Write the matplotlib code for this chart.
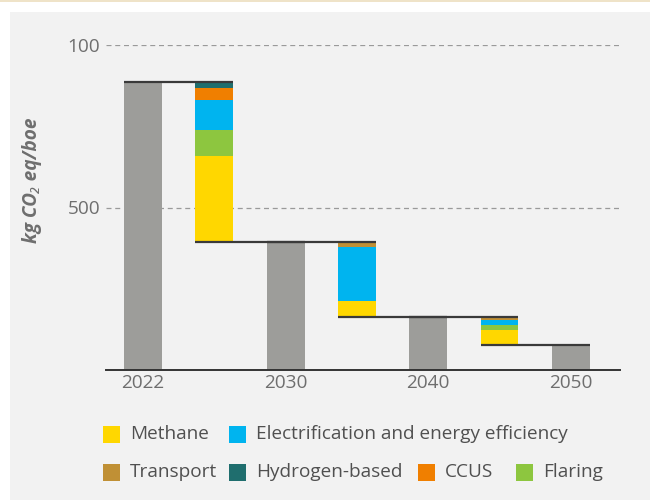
import matplotlib
matplotlib.use("Agg")
import matplotlib.pyplot as plt
from matplotlib.patches import Rectangle
import numpy as np

plt.rcParams['font.family'] = ['Open Sans', 'Noto Sans', 'DejaVu Sans']

# ---- data ----
categories = ['2022', '', '2030', '', '2040', '', '2050']
tick_labels = ['2022', '2030', '2040', '2050']
totals = [885, 394, 164, 77]          # gray bars at 2022, 2030, 2040, 2050
methane = [265, 48, 46]
flaring = [80, 0, 14]
electrification = [92, 166, 18]
transport = [0, 16, 9]
ccus = [38, 0, 0]
hydrogen = [16, 0, 0]
ytick_vals = [500, 1000]
ytick_labels = ['500', '100']

series = [
    ('Methane', methane, '#ffd700'),
    ('Flaring', flaring, '#8dc63f'),
    ('Electrification and energy efficiency', electrification, '#00b4ef'),
    ('Transport', transport, '#c09035'),
    ('CCUS', ccus, '#f07f00'),
    ('Hydrogen-based', hydrogen, '#1f6e6e'),
]

W, H = 650, 500
fig = plt.figure(figsize=(6.5, 5), dpi=100)
fig.patch.set_facecolor('white')

def fx(x):
    return x / W

def fy(y):
    return 1 - y / H

# background panel and top rule
fig.patches.append(Rectangle((fx(10), 0), 1 - fx(10), fy(12), transform=fig.transFigure,
                             facecolor='#f2f2f2', edgecolor='none', zorder=-10))
fig.patches.append(Rectangle((0, fy(2)), 1, 2 / H, transform=fig.transFigure,
                             facecolor='#efe3c8', edgecolor='none', zorder=-10))

ax = fig.add_axes([fx(106), fy(370), fx(620) - fx(106), (370 - 45) / H])
ax.set_facecolor('none')

pos = np.arange(len(categories))
bw = 0.53
gray = '#9d9d9a'
total_pos = pos[0::2]
stack_pos = pos[1::2]

ax.bar(total_pos, totals, width=bw, color=gray, zorder=2)

for i, sp in enumerate(stack_pos):
    bottom = totals[i + 1]
    for name, vals, col in series:
        v = vals[i]
        if v > 0:
            ax.bar(sp, v, bottom=bottom, width=bw, color=col, zorder=2)
            bottom += v

# connector lines
for i, sp in enumerate(stack_pos):
    ax.plot([total_pos[i] - bw / 2, sp + bw / 2], [totals[i], totals[i]],
            color='#3a3a3a', lw=1.6, zorder=3, solid_capstyle='butt')
    ax.plot([sp - bw / 2, total_pos[i + 1] + bw / 2], [totals[i + 1], totals[i + 1]],
            color='#3a3a3a', lw=1.6, zorder=3, solid_capstyle='butt')

ax.set_xlim(-0.52, 6.69)
ax.set_ylim(0, 1000)

for v in ytick_vals:
    ax.axhline(v, color='#9a9a9a', lw=0.9, ls=(0, (4, 3)), zorder=1)

fs = 13.7
ax.set_yticks(ytick_vals)
ax.set_yticklabels(ytick_labels)
ax.set_xticks(total_pos)
ax.set_xticklabels(tick_labels)
ax.tick_params(axis='both', length=0, labelsize=fs, labelcolor='#6e6e6e')
ax.tick_params(axis='x', pad=3)
ax.tick_params(axis='y', pad=4)
for s in ['left', 'right', 'top']:
    ax.spines[s].set_visible(False)
ax.spines['bottom'].set_color('#333333')
ax.spines['bottom'].set_linewidth(1.4)
ax.spines['bottom'].set_zorder(4)

fig.text(fx(32), fy(180), 'kg CO\u2082 eq/boe', rotation=90, ha='center', va='center',
         fontsize=fs, fontweight='bold', fontstyle='italic', color='#6e6e6e')

# legend
legend_items = [
    ('Methane', '#ffd700', 103, 434),
    ('Electrification and energy efficiency', '#00b4ef', 229, 434),
    ('Transport', '#c09035', 103, 472),
    ('Hydrogen-based', '#1f6e6e', 229, 472),
    ('CCUS', '#f07f00', 418, 472),
    ('Flaring', '#8dc63f', 516, 472),
]
sq = 17
for label, col, x, y in legend_items:
    fig.patches.append(Rectangle((fx(x), fy(y + sq / 2)), sq / W, sq / H,
                                 transform=fig.transFigure, facecolor=col, edgecolor='none'))
    fig.text(fx(x + 27), fy(y), label, ha='left', va='center', fontsize=fs, color='#505050')

fig.savefig('out.png', dpi=100)
